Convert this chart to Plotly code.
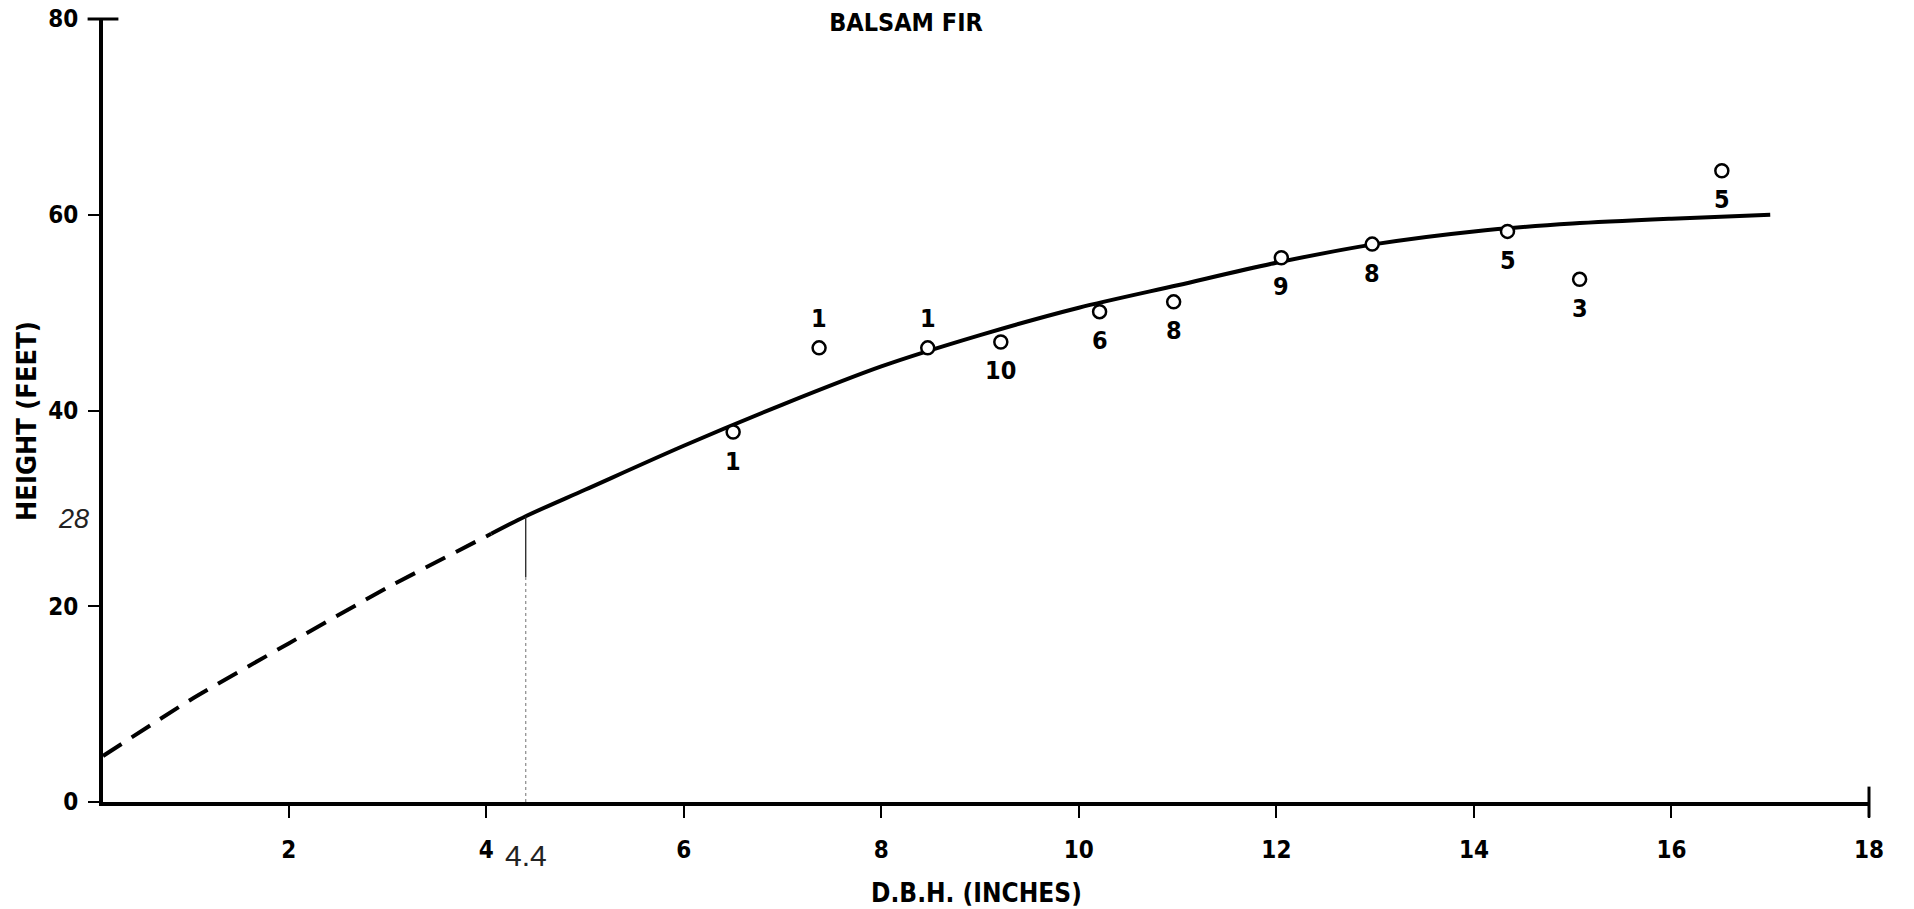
import plotly.graph_objects as go

# ---- data ----
dbh = [6.50, 7.37, 8.47, 9.21, 10.21, 10.96, 12.05, 12.97, 14.34, 15.07, 16.51]
height = [37.8, 46.4, 46.4, 47.0, 50.1, 51.1, 55.6, 57.0, 58.3, 53.4, 64.5]
counts = ["1", "1", "1", "10", "6", "8", "9", "8", "5", "3", "5"]
count_side = ["below", "above", "above", "below", "below", "below", "below", "below", "below", "below", "below"]

curve_dash_x = [0.12, 1, 2, 3, 4.05]
curve_dash_y = [4.7, 10.4, 16.2, 21.9, 27.4]
curve_x = [4.05, 4.4, 5, 6, 7, 8, 9, 10, 11, 12, 13, 14, 15, 16, 17]
curve_y = [27.4, 29.2, 31.9, 36.4, 40.6, 44.5, 47.7, 50.5, 52.8, 55.1, 57.0, 58.3, 59.1, 59.6, 60.0]

guide_x = [4.4, 4.4, 4.4]
guide_y = [29.2, 23.0, 0]
guide_label_x = "4.4"
guide_label_y = "28"

x_ticks = [2, 4, 6, 8, 10, 12, 14, 16, 18]
y_ticks = [0, 20, 40, 60, 80]
x_range = [0.12, 18]
y_range = [0, 80]

title_text = "BALSAM FIR"
x_title = "D.B.H. (INCHES)"
y_title = "HEIGHT (FEET)"

FONT = "DejaVu Sans Condensed, Liberation Sans Narrow, Arial Narrow, sans-serif"
HAND = "Liberation Sans, DejaVu Sans, sans-serif"

fig = go.Figure()

fig.add_trace(go.Scatter(x=curve_dash_x, y=curve_dash_y, mode="lines",
                         line=dict(color="black", width=4, dash="22px,12px", shape="spline", smoothing=0.6),
                         hoverinfo="skip", cliponaxis=False))
fig.add_trace(go.Scatter(x=curve_x, y=curve_y, mode="lines",
                         line=dict(color="black", width=4, shape="spline", smoothing=0.8),
                         hoverinfo="skip"))
fig.add_trace(go.Scatter(x=guide_x[:2], y=guide_y[:2], mode="lines",
                         line=dict(color="#222222", width=1.3), hoverinfo="skip"))
fig.add_trace(go.Scatter(x=guide_x[1:], y=guide_y[1:], mode="lines",
                         line=dict(color="#8a8a8a", width=1.2, dash="dot"), hoverinfo="skip"))

fig.add_trace(go.Scatter(x=dbh, y=height, mode="markers",
                         marker=dict(symbol="circle", size=13, color="white",
                                     line=dict(color="black", width=2.5)),
                         hoverinfo="skip", cliponaxis=False))

fig.add_trace(go.Scatter(x=[x_range[0]], y=[y_range[1]], mode="markers",
                         marker=dict(symbol="line-ew", size=22, line=dict(color="black", width=3)),
                         hoverinfo="skip", cliponaxis=False))
fig.add_trace(go.Scatter(x=[x_range[1]], y=[y_range[0]], mode="markers",
                         marker=dict(symbol="line-ns", size=22, line=dict(color="black", width=3)),
                         hoverinfo="skip", cliponaxis=False))

BOLD = dict(family=FONT, color="black", weight="bold")

annotations = []
for xv, yv, t, side in zip(dbh, height, counts, count_side):
    annotations.append(dict(x=xv, y=yv, text=t, showarrow=False, xref="x", yref="y",
                            yshift=(-29 if side == "below" else 29),
                            font=dict(BOLD, size=25)))

annotations.append(dict(x=guide_x[0], y=0, xref="x", yref="y", text=guide_label_x, showarrow=False,
                        xshift=0, yshift=-53,
                        font=dict(family=HAND, size=30, color="#222222", weight="normal")))
annotations.append(dict(x=x_range[0], y=guide_y[0], xref="x", yref="y", text=guide_label_y, showarrow=False,
                        xshift=-30, yshift=-3,
                        font=dict(family=HAND, size=27, color="#222222", weight="normal", style="italic")))

# axis titles
annotations.append(dict(x=(976 - 103) / 1766, y=(802 - 893) / 783, xref="paper", yref="paper",
                        text=x_title, showarrow=False, xanchor="center", yanchor="middle",
                        font=dict(BOLD, size=26)))
annotations.append(dict(x=(26 - 103) / 1766, y=(802 - 421) / 783, xref="paper", yref="paper",
                        text=y_title, showarrow=False, textangle=-90, xanchor="center", yanchor="middle",
                        font=dict(BOLD, size=27)))

fig.update_layout(
    width=1914, height=909,
    margin=dict(l=103, r=45, t=19, b=107, autoexpand=False),
    paper_bgcolor="white", plot_bgcolor="white",
    showlegend=False,
    font=dict(BOLD, size=24),
    title=dict(text=title_text, x=906 / 1914, xanchor="center", xref="container",
               y=1 - 22 / 909, yanchor="middle", yref="container",
               font=dict(BOLD, size=25)),
    annotations=annotations,
)

fig.update_xaxes(range=x_range, tickvals=x_ticks, ticktext=[str(v) for v in x_ticks],
                 automargin=False,
                 showgrid=False, zeroline=False, showline=True, linecolor="black", linewidth=3.5,
                 ticks="outside", ticklen=12, tickwidth=2, tickcolor="black",
                 ticklabelstandoff=11,
                 tickfont=dict(BOLD, size=24))
fig.update_yaxes(range=y_range, tickvals=y_ticks, ticktext=[str(v) for v in y_ticks],
                 automargin=False,
                 showgrid=False, zeroline=False, showline=True, linecolor="black", linewidth=4,
                 ticks="outside", ticklen=11, tickwidth=2, tickcolor="black",
                 ticklabelstandoff=5,
                 tickfont=dict(BOLD, size=24))

fig.write_html("out.html", config={"displayModeBar": False},
               post_script="document.body.style.margin='0';document.body.style.overflow='hidden';")
